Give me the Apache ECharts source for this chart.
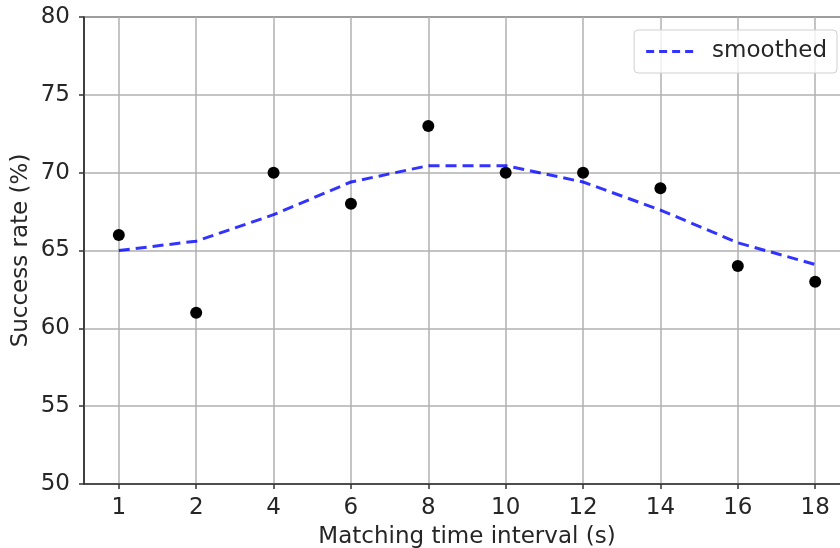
<!DOCTYPE html>
<html>
<head>
<meta charset="utf-8">
<script src="https://cdn.jsdelivr.net/npm/echarts@6/dist/echarts.min.js"></script>
<style>
  html, body { margin: 0; padding: 0; background: #fff; }
  #chart { width: 840px; height: 548px; }
</style>
</head>
<body>
<div id="chart"></div>
<script>
// Matching time interval (s), one category per measurement
const intervals = ['1', '2', '4', '6', '8', '10', '12', '14', '16', '18'];
// Measured success rate (%)
const successRate = [66, 61, 70, 68, 73, 70, 70, 69, 64, 63];
// Smoothed success rate (%)
const smoothed = [65.0, 65.6, 67.3, 69.4, 70.45, 70.45, 69.4, 67.6, 65.5, 64.1];
// Y axis tick range
const yTicks = { min: 50, max: 80, step: 5 };

const idx = intervals.map((_, i) => i);
const FONT = 'DejaVu Sans';
const FS = 23;
const TXT = '#262626';
const BLUE = 'rgba(0,0,255,0.8)';

// four short dashes for the legend key
const dashIcon = 'path://M0,0h8v3h-8z M13,0h8v3h-8z M26,0h8v3h-8z M39,0h8v3h-8z';

const chart = echarts.init(document.getElementById('chart'), null, { renderer: 'canvas' });
chart.setOption({
  animation: false,
  backgroundColor: '#fff',
  textStyle: { fontFamily: FONT },
  grid: {
    left: 84, right: -10, top: 17, bottom: 64,
    outerBoundsMode: 'none',
    containLabel: false,
    show: true, borderColor: '#333', borderWidth: 1.5, backgroundColor: 'transparent'
  },
  legend: {
    data: [{ name: 'smoothed', icon: dashIcon, itemStyle: { color: BLUE } }],
    right: 3, top: 30,
    padding: [10, 10, 10, 12],
    itemWidth: 47, itemHeight: 3, itemGap: 10,
    backgroundColor: 'rgba(255,255,255,0.8)',
    borderColor: '#d0d0d0', borderWidth: 1, borderRadius: 4,
    textStyle: { fontFamily: FONT, fontSize: FS, color: TXT, padding: [0, 0, 0, 14] }
  },
  xAxis: {
    type: 'value',
    min: -0.45, max: 9.45,
    name: 'Matching time interval (s)',
    nameLocation: 'middle', nameGap: 42, nameMoveOverlap: false,
    nameTextStyle: { fontFamily: FONT, fontSize: FS, color: TXT },
    axisLine: { show: true, onZero: false, lineStyle: { color: '#333', width: 1.5 } },
    axisTick: { show: true, length: 5, customValues: idx, lineStyle: { color: '#333', width: 1.5 } },
    axisLabel: {
      customValues: idx, margin: 13,
      fontFamily: FONT, fontSize: FS, color: TXT,
      formatter: v => intervals[Math.round(v)]
    },
    splitLine: { show: true, lineStyle: { color: '#b0b0b0', width: 1.5 } }
  },
  yAxis: {
    type: 'value',
    min: yTicks.min, max: yTicks.max, interval: yTicks.step,
    name: 'Success rate (%)',
    nameLocation: 'middle', nameGap: 51, nameMoveOverlap: false,
    nameTextStyle: { fontFamily: FONT, fontSize: FS, color: TXT },
    axisLine: { show: true, onZero: false, lineStyle: { color: '#333', width: 1.5 } },
    axisTick: { show: true, length: 5, lineStyle: { color: '#333', width: 1.5 } },
    axisLabel: { margin: 14, fontFamily: FONT, fontSize: FS, color: TXT },
    splitLine: { show: true, lineStyle: { color: '#b0b0b0', width: 1.5 } }
  },
  series: [
    {
      name: 'measured',
      type: 'scatter',
      data: successRate.map((v, i) => [i, v]),
      symbol: 'circle', symbolSize: 12,
      itemStyle: { color: '#000', opacity: 1 },
      z: 3
    },
    {
      name: 'smoothed',
      type: 'line',
      data: smoothed.map((v, i) => [i, v]),
      symbol: 'none',
      smooth: false,
      lineStyle: { color: BLUE, width: 3, type: [11, 6] },
      itemStyle: { color: BLUE },
      z: 4
    }
  ]
});
</script>
</body>
</html>
